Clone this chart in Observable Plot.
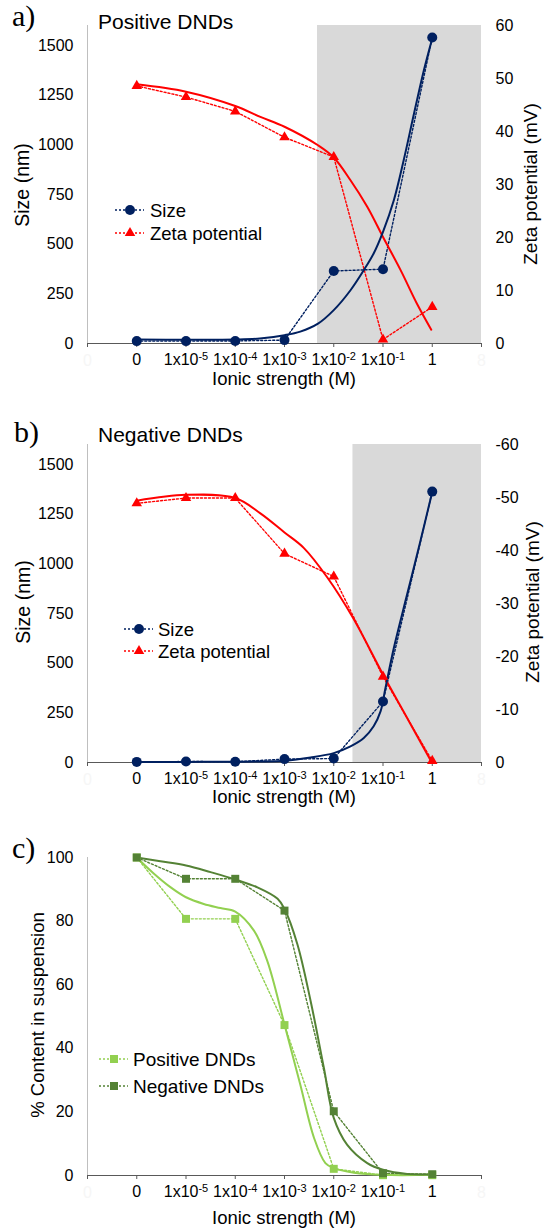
<!DOCTYPE html>
<html><head><meta charset="utf-8">
<script src="https://cdn.jsdelivr.net/npm/d3@7"></script>
<script src="https://cdn.jsdelivr.net/npm/@observablehq/plot@0.6"></script>
<style>
body{margin:0;background:#fff;}
#root{position:relative;width:544px;height:1229px;overflow:hidden;font-family:'Liberation Sans',Arial,sans-serif;}
.panel{position:absolute;left:0;}
#overlay{position:absolute;left:0;top:0;pointer-events:none;}
</style></head><body><div id="root"></div>
<script>
// ---------- data ----------
const categories = ["0","1x10⁻⁵","1x10⁻⁴","1x10⁻³","1x10⁻²","1x10⁻¹","1"];
const catX = [1,2,3,4,5,6,7];
const xTicks = [0,1,2,3,4,5,6,7,8];
const edgeTicks = [0,8];
const edgeLabels = ["0","8"];
const sizeTicks = [0,250,500,750,1000,1250,1500];
const zetaTicks = [0,10,20,30,40,50,60];
const pctTicks = [0,20,40,60,80,100];

// a) Positive DNDs
const aSize = [12,12,13,17,365,374,1540];
const aZeta = [48.6,46.5,43.8,38.9,35.2,0.75,6.9];
const aSizeFitX = [1,2,3,3.5,4,4.32,4.68,5,5.34,5.61,5.81,6,6.22,6.42,6.63,6.83,7];
const aSizeFitY = [20,19,20,25,42,60,100,168,268,369,453,562,721,922,1157,1375,1535];
const aZetaFitX = [1,2,3,3.51,4,4.68,5,5.34,5.68,6,6.36,6.69,6.98];
const aZetaFitY = [48.9,47.5,44.8,42.75,40.9,37.4,35.1,30.8,25.8,20.1,13.8,7.5,2.6];
const aShade = [4.67, 8];

// b) Negative DNDs
const bSize = [3,5,4,17,20,307,1363];
const bZeta = [-48.9,-49.9,-49.9,-39.4,-35.1,-16.2,-0.3];
const bSizeFitX = [1,2,3,3.51,4,4.53,5,5.34,5.61,5.81,5.95,6.05,6.22,6.49,6.76,6.98];
const bSizeFitY = [3,3,4,5,9,25,47,81,123,182,257,375,576,846,1114,1341];
const bZetaFitX = [1,2,3,3.51,4,4.39,4.87,5.39,6,6.49,6.98];
const bZetaFitY = [-49.4,-50.5,-49.9,-47.0,-43.4,-40.5,-34.9,-27.3,-16.6,-8.4,-0.2];
const bShade = [5.39, 8];

// c) % content in suspension
const cPos = [100,80.7,80.7,47.3,2.1,0.1,0.1];
const cNeg = [100,93.3,93.3,83.3,20.2,0.7,0.4];
const cPosFitX = [1,1.35,1.69,2,2.36,2.7,3,3.38,3.65,4,4.32,4.6,4.83,5,5.41,6,7];
const cPosFitY = [100,94.9,90.6,87.5,85.4,84.1,83.0,77.0,67.5,47.5,28.6,11.8,3.9,2.3,0.9,0.2,0.2];
const cNegFitX = [1,1.48,2,2.5,3,3.45,3.86,4,4.26,4.53,4.8,5,5.27,5.68,6,6.49,7];
const cNegFitY = [100,98.8,97.5,95.4,93.1,90.6,87.0,83.8,72.8,54.9,33.8,18.1,9.7,3.9,1.8,0.5,0.4];

// ---------- style ----------
const FONT = "'Liberation Sans', Arial, Helvetica, sans-serif";
const SERIF = "'Liberation Serif', 'Times New Roman', serif";
const NAVY = "#002060", RED = "#FF0000", LIGHT = "#92D050", DARK = "#548235", SHADE = "#D9D9D9";
const k = 1600 / 60; // zeta (mV) -> size-axis units
const DOT = "2 2";
const TICK_FS = 16;

const rows = (xs, ys, f = v => v) => xs.map((x, i) => ({x, y: f(ys[i])}));
const root = document.getElementById("root");

function xAxisMarks() {
  return [
    Plot.ruleY([0], {stroke: "#595959", strokeWidth: 1}),
    Plot.axisX({ticks: xTicks, tickFormat: d => (d >= 1 && d <= 7) ? categories[d - 1] : "",
      tickSize: 4, tickPadding: 6, stroke: "#595959", fill: "#000", fontSize: TICK_FS, label: null}),
    Plot.text(edgeTicks, {x: d => d, y: 0, text: (d, i) => edgeLabels[i], dy: 17, fill: "#f6f6f6", fontSize: TICK_FS})
  ];
}

// turn unicode superscripts in x tick labels into real raised tspans
const supMap = {"⁻":"-","⁰":"0","¹":"1","²":"2","³":"3","⁴":"4","⁵":"5","⁶":"6","⁷":"7","⁸":"8","⁹":"9"};
function fixSuperscripts(el) {
  el.querySelectorAll('g[aria-label="x-axis tick label"] text').forEach(t => {
    const m = t.textContent.match(/^(.*?)([⁻⁰¹²³⁴⁵⁶⁷⁸⁹]+)$/);
    if (!m) return;
    t.textContent = m[1];
    const ts = document.createElementNS("http://www.w3.org/2000/svg", "tspan");
    ts.setAttribute("dy", "-0.4em");
    ts.setAttribute("font-size", "11");
    ts.textContent = [...m[2]].map(c => supMap[c]).join("");
    t.appendChild(ts);
  });
}

function addPanel(top, mt, mb, yMax, marks) {
  const el = Plot.plot({
    width: 544, height: mt + 318 + mb,
    marginTop: mt, marginBottom: mb, marginLeft: 87, marginRight: 63,
    x: {domain: [0, 8]},
    y: {domain: [0, yMax]},
    style: {fontFamily: FONT, fontSize: "16px", color: "#000", background: "transparent", overflow: "visible"},
    marks
  });
  el.classList.add("panel");
  el.style.top = top + "px";
  fixSuperscripts(el);
  root.appendChild(el);
}

function sizeZetaPanel(top, mt, mb, shade, size, zeta, sizeFitX, sizeFitY, zetaFitX, zetaFitY, zsign) {
  const zf = v => zsign * v * k;
  addPanel(top, mt, mb, 1600, [
    Plot.rect([shade], {x1: d => d[0], x2: d => d[1], y1: 0, y2: 1600, fill: SHADE}),
    Plot.ruleX([0], {y1: 0, y2: 1600, stroke: "#BFBFBF"}),
    ...xAxisMarks(),
    Plot.axisY({ticks: sizeTicks, tickFormat: d => String(d), tickSize: 0, tickPadding: 14, fontSize: TICK_FS, label: null}),
    Plot.axisY({anchor: "right", ticks: zetaTicks.map(z => z * k),
      tickFormat: d => { const v = Math.round(d / k); return v === 0 ? "0" : String(zsign * v); },
      tickSize: 0, tickPadding: 14, fontSize: TICK_FS, label: null}),
    Plot.line(rows(catX, size), {x: "x", y: "y", stroke: NAVY, strokeWidth: 1.4, strokeDasharray: DOT}),
    Plot.line(rows(catX, zeta, zf), {x: "x", y: "y", stroke: RED, strokeWidth: 1.4, strokeDasharray: DOT}),
    Plot.line(rows(zetaFitX, zetaFitY, zf), {x: "x", y: "y", stroke: RED, strokeWidth: 2, curve: "catmull-rom"}),
    Plot.line(rows(sizeFitX, sizeFitY), {x: "x", y: "y", stroke: NAVY, strokeWidth: 2, curve: "catmull-rom"}),
    Plot.dot(rows(catX, size), {x: "x", y: "y", r: 5, fill: NAVY, symbol: "circle"}),
    Plot.dot(rows(catX, zeta, zf), {x: "x", y: "y", r: 3.9, fill: RED, symbol: "triangle"})
  ]);
}

sizeZetaPanel(0, 25, 52, aShade, aSize, aZeta, aSizeFitX, aSizeFitY, aZetaFitX, aZetaFitY, 1);
sizeZetaPanel(400, 44, 50, bShade, bSize, bZeta, bSizeFitX, bSizeFitY, bZetaFitX, bZetaFitY, -1);

addPanel(800, 57, 55, 100, [
  Plot.ruleX([0], {y1: 0, y2: 100, stroke: "#BFBFBF"}),
  ...xAxisMarks(),
  Plot.axisY({ticks: pctTicks, tickFormat: d => String(d), tickSize: 0, tickPadding: 14, fontSize: TICK_FS, label: null}),
  Plot.line(rows(catX, cPos), {x: "x", y: "y", stroke: LIGHT, strokeWidth: 1.4, strokeDasharray: DOT}),
  Plot.line(rows(catX, cNeg), {x: "x", y: "y", stroke: DARK, strokeWidth: 1.4, strokeDasharray: DOT}),
  Plot.line(rows(cPosFitX, cPosFitY), {x: "x", y: "y", stroke: LIGHT, strokeWidth: 2, curve: "catmull-rom"}),
  Plot.line(rows(cNegFitX, cNegFitY), {x: "x", y: "y", stroke: DARK, strokeWidth: 2, curve: "catmull-rom"}),
  Plot.dot(rows(catX, cPos), {x: "x", y: "y", r: 4.5, fill: LIGHT, symbol: "square"}),
  Plot.dot(rows(catX, cNeg), {x: "x", y: "y", r: 4.5, fill: DARK, symbol: "square"})
]);

// ---------- titles, axis titles, legends ----------
const svg = d3.select(root).append("svg").attr("id", "overlay").attr("width", 544).attr("height", 1229);
function txt(x, y, s, o = {}) {
  const t = svg.append("text").attr("x", x).attr("y", y).text(s)
    .attr("font-family", o.family || FONT).attr("font-size", o.size || 18)
    .attr("text-anchor", o.anchor || "start").attr("dominant-baseline", o.baseline || "auto").attr("fill", "#000");
  if (o.rotate) t.attr("transform", `rotate(-90,${x},${y})`);
  return t;
}
function legendRow(x0, x1, cx, cy, tx, color, sym, r, label, size) {
  svg.append("line").attr("x1", x0).attr("x2", x1).attr("y1", cy).attr("y2", cy)
    .attr("stroke", color).attr("stroke-width", 1.4).attr("stroke-dasharray", DOT);
  svg.append("path").attr("d", d3.symbol(sym, Math.PI * r * r)()).attr("transform", `translate(${cx},${cy})`).attr("fill", color);
  txt(tx, cy, label, {size: size || 18.5, baseline: "central"});
}

// panel a
txt(12, 26, "a)", {family: SERIF, size: 30});
txt(98, 29, "Positive DNDs", {size: 21});
txt(22, 185, "Size (nm)", {size: 19.5, anchor: "middle", baseline: "central", rotate: true});
txt(530, 184, "Zeta potential (mV)", {size: 19, anchor: "middle", baseline: "central", rotate: true});
txt(284, 378, "Ionic strength (M)", {size: 18.5, anchor: "middle", baseline: "central"});
legendRow(115, 144, 130, 210, 150, NAVY, d3.symbolCircle, 5, "Size");
legendRow(115, 144, 130, 233, 150, RED, d3.symbolTriangle, 3.9, "Zeta potential");

// panel b
txt(14, 442, "b)", {family: SERIF, size: 30});
txt(98, 442, "Negative DNDs", {size: 21});
txt(23, 602, "Size (nm)", {size: 19.5, anchor: "middle", baseline: "central", rotate: true});
txt(532, 602, "Zeta potential (mV)", {size: 19, anchor: "middle", baseline: "central", rotate: true});
txt(284, 796, "Ionic strength (M)", {size: 18.5, anchor: "middle", baseline: "central"});
legendRow(124, 153, 139, 629, 158, NAVY, d3.symbolCircle, 5, "Size");
legendRow(124, 153, 139, 651, 158, RED, d3.symbolTriangle, 3.9, "Zeta potential");

// panel c
txt(12, 858, "c)", {family: SERIF, size: 30});
txt(37, 1015, "% Content in suspension", {size: 18.6, anchor: "middle", baseline: "central", rotate: true});
txt(284, 1217, "Ionic strength (M)", {size: 18.5, anchor: "middle", baseline: "central"});
legendRow(99, 128, 114, 1059, 133, LIGHT, d3.symbolSquare, 4.5, "Positive DNDs", 19);
legendRow(99, 128, 114, 1086, 133, DARK, d3.symbolSquare, 4.5, "Negative DNDs", 19);
</script></body></html>
